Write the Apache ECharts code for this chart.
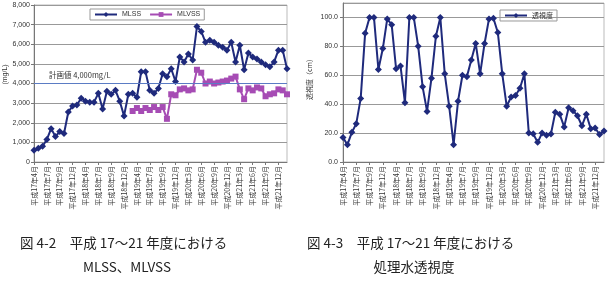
<!DOCTYPE html>
<html>
<head>
<meta charset="utf-8">
<script src="https://cdn.jsdelivr.net/npm/echarts@6/dist/echarts.min.js"></script>
<style>
  html, body { margin: 0; padding: 0; background: #fff; }
  #main { width: 609px; height: 285px; }
</style>
</head>
<body>
<div id="main"></div>
<script>
// 軸ラベル（3か月おきに表示）
const tickLabels = [
  '平成17年4月', '平成17年7月', '平成17年9月', '平成17年12月',
  '平成18年4月', '平成18年7月', '平成18年9月', '平成18年12月',
  '平成19年4月', '平成19年7月', '平成19年9月', '平成19年12月',
  '平成20年3月', '平成20年6月', '平成20年9月', '平成20年12月',
  '平成21年3月', '平成21年6月', '平成21年9月', '平成21年12月'
];
// 月ごとのカテゴリ（60か月）
const months = Array.from({ length: 60 }, (_, i) => String(i + 1));

// MLSS (mg/L)
const mlss = [
  600, 700, 800, 1150, 1700, 1300, 1550, 1450, 2550, 2850,
  2900, 3250, 3100, 3050, 3050, 3500, 2700, 3600, 3450, 3650,
  3100, 2350, 3450, 3500, 3300, 4600, 4600, 3650, 3500, 3750,
  4500, 4350, 4750, 4100, 5350, 5100, 5500, 5200, 6900, 6650,
  6100, 6200, 6100, 5950, 5850, 5700, 6100, 5100, 5950, 4700,
  5550, 5350, 5250, 5100, 4950, 4850, 5100, 5700, 5700, 4750
];
// MLVSS (mg/L) 平成19年度から
const mlvss = [
  null, null, null, null, null, null, null, null, null, null,
  null, null, null, null, null, null, null, null, null, null,
  null, null, null, 2600, 2750, 2600, 2750, 2650, 2800, 2650,
  2800, 2200, 3450, 3400, 3700, 3750, 3650, 3700, 4700, 4550,
  4000, 4100, 4000, 4050, 4100, 4150, 4250, 4350, 3700, 3200,
  3750, 3650, 3800, 3750, 3350, 3450, 3500, 3700, 3650, 3450
];
// 処理水透視度 (cm)
const toshido = [
  17, 12, 20.5, 26.5, 44, 89, 100, 100, 64, 78.5,
  99, 95, 64.5, 66.5, 41, 100, 100, 80, 52, 35,
  58, 87, 100, 61, 38.5, 12, 42, 60, 59, 70.6,
  82, 61, 82, 99, 99.5, 89.6, 61, 38.6, 45, 46,
  51, 61, 20, 19.5, 13.6, 20, 18.5, 19.4, 34.5, 33,
  24.3, 37.5, 35.5, 32, 25, 33, 23, 23.5, 19, 21.5
];
const planValue = 4000;

const navy = '#1f2a7c';
const purple = '#a64cb4';
const labelFont = "'Liberation Sans', 'Noto Sans CJK JP', sans-serif";
const cjkFont = "'Noto Sans CJK JP', sans-serif";

const xAxisBase = (gridIndex) => ({
  type: 'category',
  gridIndex: gridIndex,
  data: months,
  boundaryGap: false,
  axisLine: { lineStyle: { color: '#777', width: 1 } },
  axisTick: { interval: 2, length: 3, lineStyle: { color: '#777' } },
  axisLabel: {
    interval: 2,
    rotate: 90,
    fontSize: 7,
    color: '#333',
    fontFamily: cjkFont,
    margin: 4,
    formatter: (v, idx) => tickLabels[Math.round(idx / 3)]
  },
  splitLine: { show: false }
});

const captionStyle = { fontSize: 13.5, fontWeight: 'normal', color: '#222', fontFamily: cjkFont };

const myChart = echarts.init(document.getElementById('main'));
myChart.setOption({
  animation: false,
  title: [
    { text: '図 4-2　平成 17～21 年度における', left: 15, top: 231, textStyle: captionStyle },
    { text: 'MLSS、MLVSS', left: 122, top: 255, textAlign: 'center', textStyle: captionStyle },
    { text: '図 4-3　平成 17～21 年度における', left: 302, top: 231, textStyle: captionStyle },
    { text: '処理水透視度', left: 409, top: 255, textAlign: 'center', textStyle: captionStyle }
  ],
  legend: [
    {
      data: ['MLSS', 'MLVSS'],
      left: 90, top: 9,
      padding: [2, 4],
      itemGap: 8,
      itemWidth: 22, itemHeight: 6,
      borderColor: '#999', borderWidth: 1,
      textStyle: { fontSize: 7, color: '#333', fontFamily: labelFont }
    },
    {
      data: ['透視度'],
      left: 500, top: 10,
      padding: [2, 4],
      itemWidth: 22, itemHeight: 6,
      borderColor: '#999', borderWidth: 1,
      textStyle: { fontSize: 7, color: '#333', fontFamily: cjkFont }
    }
  ],
  grid: [
    { left: 34, right: 322, top: 5, bottom: 123, show: true, borderColor: '#bbb', borderWidth: 1 },
    { left: 343, right: 5, top: 3, bottom: 123, show: true, borderColor: '#bbb', borderWidth: 1 }
  ],
  xAxis: [xAxisBase(0), xAxisBase(1)],
  yAxis: [
    {
      type: 'value', gridIndex: 0,
      min: 0, max: 8000, interval: 1000,
      name: '(mg/L)', nameLocation: 'middle', nameGap: 25, nameRotate: 90,
      nameTextStyle: { fontSize: 7, color: '#333', fontFamily: labelFont, padding: [0, 0, 0, 18] },
      axisLine: { show: true, lineStyle: { color: '#777' } },
      axisTick: { show: true, length: 3, lineStyle: { color: '#777' } },
      axisLabel: { fontSize: 7, color: '#333', fontFamily: labelFont, margin: 4 },
      splitLine: { lineStyle: { color: '#999', width: 1 } }
    },
    {
      type: 'value', gridIndex: 1,
      min: 0, max: 110, interval: 20,
      name: '透視度（cm）', nameLocation: 'middle', nameGap: 30, nameRotate: 90,
      nameTextStyle: { fontSize: 7, color: '#333', fontFamily: cjkFont, padding: [0, 0, 0, 10] },
      axisLine: { show: true, lineStyle: { color: '#777' } },
      axisTick: { show: true, length: 3, lineStyle: { color: '#777' } },
      axisLabel: {
        fontSize: 7, color: '#333', fontFamily: labelFont, margin: 5,
        showMaxLabel: false,
        formatter: (v) => v.toFixed(1)
      },
      splitLine: { lineStyle: { color: '#999', width: 1 } }
    }
  ],
  series: [
    {
      name: 'MLSS', type: 'line', xAxisIndex: 0, yAxisIndex: 0,
      data: mlss,
      symbol: 'diamond', symbolSize: 7, showAllSymbol: true,
      lineStyle: { color: navy, width: 2 },
      itemStyle: { color: navy },
      z: 3,
      markLine: {
        silent: true,
        symbol: 'none',
        data: [{ yAxis: planValue }],
        lineStyle: { color: '#5b7cc4', width: 1, type: 'solid' },
        label: {
          position: 'insideStartTop',
          formatter: '計画値 4,000mg/L',
          fontSize: 7.5,
          color: '#333',
          fontFamily: cjkFont,
          padding: [0, 0, 0, 10]
        }
      }
    },
    {
      name: 'MLVSS', type: 'line', xAxisIndex: 0, yAxisIndex: 0,
      data: mlvss,
      symbol: 'rect', symbolSize: 6, showAllSymbol: true,
      lineStyle: { color: purple, width: 2 },
      itemStyle: { color: purple },
      z: 2
    },
    {
      name: '透視度', type: 'line', xAxisIndex: 1, yAxisIndex: 1,
      data: toshido,
      symbol: 'diamond', symbolSize: 7, showAllSymbol: true,
      lineStyle: { color: navy, width: 2 },
      itemStyle: { color: navy }
    }
  ]
});
</script>
</body>
</html>
